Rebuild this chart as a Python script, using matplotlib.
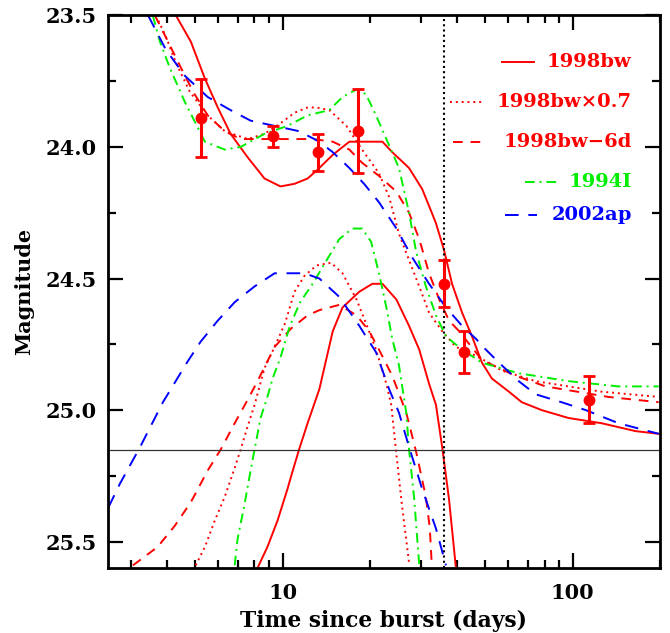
import numpy as np
import matplotlib
matplotlib.use('Agg')
import matplotlib.pyplot as plt
from matplotlib.ticker import FixedLocator, NullFormatter

plt.rcParams['font.family'] = ['DejaVu Serif']
plt.rcParams['font.weight'] = 'bold'

# observed points (days, mag, err)
obs_t = [5.22, 9.24, 13.2, 18.2, 36.0, 42.2, 114]
obs_m = [23.89, 23.96, 24.02, 23.94, 24.52, 24.78, 24.96]
obs_e = [0.15, 0.04, 0.07, 0.16, 0.09, 0.08, 0.09]

# 1998bw: total (afterglow+SN) and SN only
bw_t = [4.29, 4.83, 5.40, 5.98, 6.62, 7.59, 8.67, 9.84, 11.0, 12.2, 13.1, 14.9, 17.0, 19.4,
        22.1, 23.9, 27.3, 30.3, 32.7, 33.8, 36.0, 38.4, 41.6, 45.0, 48.7, 52.7, 60.3, 66.8,
        78.2, 96.8, 126, 165, 198]
bw_m = [23.50, 23.60, 23.74, 23.85, 23.95, 24.04, 24.12, 24.15, 24.14, 24.12, 24.09, 24.03,
        23.98, 23.98, 23.98, 24.02, 24.08, 24.16, 24.25, 24.29, 24.39, 24.52, 24.63, 24.72,
        24.82, 24.88, 24.93, 24.97, 25.00, 25.03, 25.05, 25.08, 25.09]
bw_sn_t = [8.20, 8.87, 9.61, 10.4, 10.65, 11.4, 12.2, 13.4, 14.9, 16.1, 18.4, 20.4, 22.1, 24.7,
           27.3, 29.6, 32.0, 33.8, 35.5, 37.5, 39.6]
bw_sn_m = [25.60, 25.52, 25.42, 25.30, 25.26, 25.15, 25.05, 24.92, 24.70, 24.61, 24.55, 24.52,
           24.52, 24.58, 24.68, 24.77, 24.90, 24.98, 25.14, 25.34, 25.60]

# 1998bw x 0.7
bw07_t = [3.66, 3.96, 4.29, 4.79, 5.52, 6.32, 7.59, 8.67, 9.84, 11.0, 12.2, 13.1, 14.5, 16.6,
          18.8, 21.5, 23.3, 25.2, 27.3, 29.6, 32.0, 35.5, 39.6, 43.9, 51.4, 57.0, 74.6, 96.8,
          126, 198]
bw07_m = [23.50, 23.58, 23.68, 23.79, 23.88, 23.94, 23.97, 23.95, 23.91, 23.87, 23.85, 23.85,
          23.86, 23.92, 24.01, 24.10, 24.19, 24.33, 24.43, 24.53, 24.63, 24.70, 24.76, 24.78,
          24.82, 24.85, 24.89, 24.91, 24.93, 24.95]
bw07_sn_t = [5.02, 5.40, 5.84, 6.32, 6.84, 7.17, 7.59, 8.01, 8.67, 9.39, 10.2, 11.0, 11.9, 13.1,
             14.7, 16.1, 18.0, 19.4, 21.0, 22.8, 23.7, 24.7, 25.8, 27.3]
bw07_sn_m = [25.59, 25.52, 25.42, 25.33, 25.22, 25.15, 25.06, 24.98, 24.84, 24.76, 24.67, 24.55,
             24.49, 24.45, 24.44, 24.48, 24.58, 24.67, 24.77, 24.90, 24.98, 25.17, 25.36, 25.58]

# 1998bw shifted by -6 d
bw6_t = [3.63, 4.03, 4.61, 4.98, 5.52, 6.32, 7.17, 8.20, 10.2, 12.7, 14.9, 17.0, 18.8, 21.5,
         24.7, 27.3, 29.6, 32.0, 34.7, 37.5, 40.6, 48.7, 63.7, 80.7, 133, 198]
bw6_m = [23.50, 23.60, 23.73, 23.80, 23.88, 23.94, 23.97, 23.97, 23.97, 23.97, 23.98, 24.01,
         24.06, 24.11, 24.17, 24.25, 24.35, 24.48, 24.58, 24.66, 24.70, 24.81, 24.87, 24.91,
         24.95, 24.97]
bw6_sn_t = [3.05, 3.71, 4.25, 4.83, 5.52, 6.12, 6.84, 7.59, 8.20, 9.39, 10.7, 12.2, 13.4, 15.7,
            18.0, 19.9, 21.5, 23.9, 26.7, 28.9, 31.2, 32.2, 32.7]
bw6_sn_m = [25.59, 25.52, 25.44, 25.35, 25.23, 25.15, 25.05, 24.96, 24.89, 24.76, 24.69, 24.64,
            24.62, 24.60, 24.64, 24.70, 24.77, 24.87, 25.01, 25.16, 25.33, 25.45, 25.59]

# 1994I
i94_t = [3.57, 3.78, 4.09, 4.61, 5.40, 6.32, 7.17, 8.67, 10.4, 12.2, 14.5, 16.1, 18.1, 19.4,
         21.0, 22.8, 25.2, 27.3, 28.9, 31.2, 33.8, 36.6, 41.6, 48.7, 65.2, 96.8, 144, 198]
i94_m = [23.50, 23.60, 23.70, 23.83, 23.98, 24.01, 24.00, 23.95, 23.92, 23.88, 23.86, 23.81,
         23.78, 23.80, 23.88, 23.97, 24.08, 24.25, 24.40, 24.53, 24.64, 24.72, 24.77, 24.82,
         24.86, 24.89, 24.91, 24.91]
i94_sn_t = [6.84, 7.00, 7.39, 7.76, 8.01, 8.40, 8.87, 9.24, 9.84, 10.6, 11.5, 12.7, 14.2, 15.7,
            17.4, 18.8, 20.2, 21.5, 22.8, 23.9, 25.2, 26.7, 27.3, 28.4, 29.6]
i94_sn_m = [25.59, 25.49, 25.36, 25.23, 25.15, 25.03, 24.95, 24.88, 24.80, 24.68, 24.59, 24.52,
            24.43, 24.35, 24.31, 24.31, 24.36, 24.48, 24.61, 24.73, 24.83, 25.01, 25.15, 25.33,
            25.59]

# 2002ap
ap_t = [3.44, 3.96, 4.61, 5.52, 6.62, 7.76, 9.39, 11.4, 13.4, 14.9, 17.0, 19.1, 21.5, 24.7,
        28.0, 32.0, 36.6, 41.6, 46.5, 50.2, 57.0, 65.2, 74.6, 91.6, 111, 144, 198]
ap_m = [23.50, 23.63, 23.73, 23.81, 23.86, 23.90, 23.92, 23.94, 23.98, 24.02, 24.08, 24.14,
        24.21, 24.31, 24.42, 24.52, 24.61, 24.68, 24.73, 24.77, 24.83, 24.89, 24.94, 24.97,
        25.00, 25.05, 25.09]
ap_sn_t = [2.51, 2.75, 3.23, 3.87, 4.68, 5.22, 5.98, 6.84, 8.01, 9.39, 10.6, 11.9, 13.4, 15.7,
           18.4, 21.0, 23.3, 25.2, 27.3, 30.3, 33.8, 36.6]
ap_sn_m = [25.37, 25.28, 25.14, 24.97, 24.82, 24.74, 24.66, 24.59, 24.53, 24.48, 24.48, 24.48,
           24.50, 24.57, 24.68, 24.78, 24.92, 25.01, 25.14, 25.30, 25.45, 25.59]

t_det = 36.0      # vertical dotted line
m_host = 25.15    # horizontal line

red, green, blue = '#ff0000', '#00ee00', '#0000ff'
ls_dot = (0, (1, 2))
ls_dash = (0, (5, 4))
ls_dd = (0, (5, 2.5, 1, 2.5))
ls_ap = (0, (7, 5))

fig = plt.figure(figsize=(6.7, 6.33), dpi=100)
ax = fig.add_axes([0.161, 0.1027, 0.824, 0.873])

lw = 1.4
ax.plot(bw_t, bw_m, color=red, lw=lw)
ax.plot(bw_sn_t, bw_sn_m, color=red, lw=lw)
ax.plot(bw07_t, bw07_m, color=red, lw=lw, ls=ls_dot)
ax.plot(bw07_sn_t, bw07_sn_m, color=red, lw=lw, ls=ls_dot)
ax.plot(bw6_t, bw6_m, color=red, lw=lw, ls=ls_dash)
ax.plot(bw6_sn_t, bw6_sn_m, color=red, lw=lw, ls=ls_dash)
ax.plot(i94_t, i94_m, color=green, lw=lw, ls=ls_dd)
ax.plot(i94_sn_t, i94_sn_m, color=green, lw=lw, ls=ls_dd)
ax.plot(ap_t, ap_m, color=blue, lw=lw, ls=ls_ap)
ax.plot(ap_sn_t, ap_sn_m, color=blue, lw=lw, ls=ls_ap)

ax.axhline(m_host, color='#333333', lw=0.9)
ax.axvline(t_det, color='black', lw=1.5, ls=(0, (1, 1.5)))

ax.errorbar(obs_t, obs_m, yerr=obs_e, fmt='o', color=red, ms=7.5, elinewidth=2.2,
            capsize=4.5, capthick=2)

# legend drawn by hand, pgplot style (text right aligned)
leg_labels = ['1998bw', '1998bw\u00d70.7', '1998bw\u22126d', '1994I', '2002ap']
leg_colors = [red, red, red, green, blue]
leg_styles = ['-', ls_dot, ls_dash, ls_dd, ls_ap]
leg_y = [0.915, 0.843, 0.770, 0.698, 0.638]
leg_x0 = [0.714, 0.620, 0.625, 0.755, 0.719]
for lab, c, s, y, x0 in zip(leg_labels, leg_colors, leg_styles, leg_y, leg_x0):
    ax.plot([x0, x0 + 0.058], [y, y], transform=ax.transAxes, color=c, ls=s, lw=lw)
    ax.text(0.949, y, lab, transform=ax.transAxes, color=c, ha='right', va='center',
            fontsize=14, fontweight='bold')

ax.set_xscale('log')
ax.set_xlim(2.5, 200)
ax.set_ylim(25.6, 23.5)

ax.xaxis.set_major_locator(FixedLocator([10, 100]))
ax.xaxis.set_minor_locator(FixedLocator([3, 4, 5, 6, 7, 8, 9, 20, 30, 40, 50, 60, 70, 80, 90, 200]))
ax.xaxis.set_minor_formatter(NullFormatter())
ax.set_xticklabels(['10', '100'])
ax.set_yticks([23.5, 24.0, 24.5, 25.0, 25.5])
ax.set_yticklabels(['23.5', '24.0', '24.5', '25.0', '25.5'])
ax.set_yticks(np.arange(23.75, 25.6, 0.5), minor=True)

ax.tick_params(which='both', direction='in', top=True, right=True, width=1.6, labelsize=15)
ax.tick_params(axis='x', pad=11)
ax.tick_params(axis='y', pad=8)
ax.tick_params(which='major', length=11)
ax.tick_params(which='minor', length=5.5)
for sp in ax.spines.values():
    sp.set_linewidth(2)

ax.set_xlabel('Time since burst (days)', fontsize=15.7, fontweight='bold', labelpad=5)
ax.set_ylabel('Magnitude', fontsize=15, fontweight='bold', labelpad=8)

fig.savefig('out.png', dpi=100)
